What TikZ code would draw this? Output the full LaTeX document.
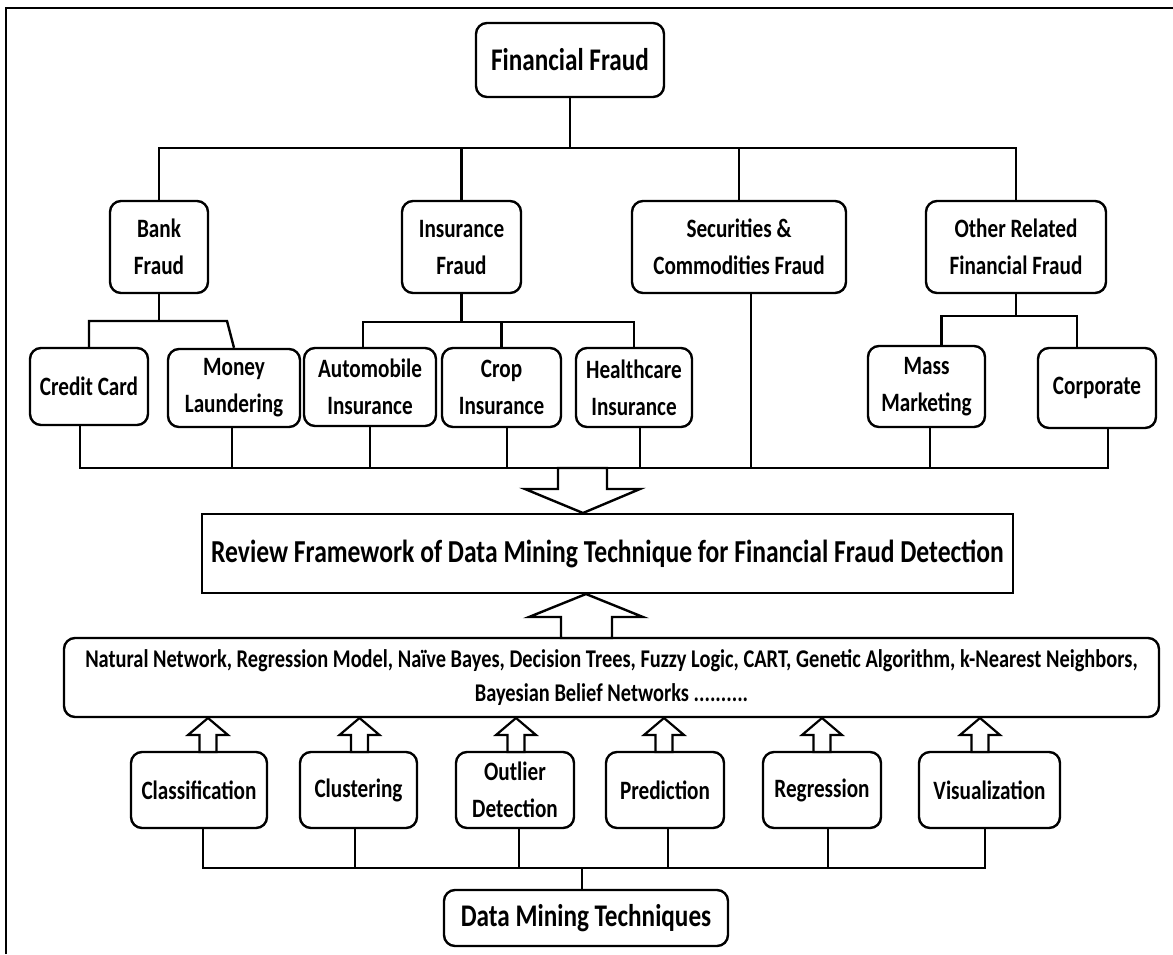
\documentclass[tikz,border=0pt]{standalone}
\usepackage{fontspec}
\newfontfamily\cf[FakeStretch=0.8]{Carlito}
\begin{document}
\begin{tikzpicture}[x=1pt,y=-1pt,
  ln/.style={line width=2.4pt},
  rbox/.style={draw,line width=2.4pt,rounded corners=11pt,align=center,inner sep=0pt,
     font=\cf\bfseries\fontsize{26.5}{37}\selectfont},
  sbox/.style={draw,line width=2.4pt,align=center,inner sep=0pt},
  bigarrow/.style={draw,fill=white,line width=2.4pt,line join=miter}]
\useasboundingbox (0,0) rectangle (1173,954);
\draw[ln] (6,954) -- (6,8) -- (1173,8);

% top level
\node[rbox,minimum width=188pt,minimum height=74pt,font=\cf\bfseries\fontsize{31.5}{38}\selectfont] (ff) at (570,60) {Financial Fraud};
\node[rbox,minimum width=98pt,minimum height=92pt] (bank) at (159,247) {Bank\\Fraud};
\node[rbox,minimum width=119pt,minimum height=92pt] (ins) at (461.5,247) {Insurance\\Fraud};
\node[rbox,minimum width=214pt,minimum height=92pt] (sec) at (739,247) {Securities \&\\Commodities Fraud};
\node[rbox,minimum width=180pt,minimum height=92pt] (oth) at (1016,247) {Other Related\\Financial Fraud};

% second level
\node[rbox,minimum width=118pt,minimum height=77pt] (cc) at (89,386.5) {Credit Card};
\node[rbox,minimum width=132pt,minimum height=78pt] (ml) at (234,388) {Money\\Laundering};
\node[rbox,minimum width=132pt,minimum height=78pt] (auto) at (370,387) {Automobile\\Insurance};
\node[rbox,minimum width=119pt,minimum height=79pt] (crop) at (501.5,387.5) {Crop\\Insurance};
\node[rbox,minimum width=116pt,minimum height=79pt] (hc) at (634,387.5) {Healthcare\\Insurance};
\node[rbox,minimum width=117pt,minimum height=81pt] (mass) at (926.5,386.5) {Mass\\Marketing};
\node[rbox,minimum width=118pt,minimum height=80pt] (corp) at (1097,388) {Corporate};

% framework
\node[sbox,minimum width=811pt,minimum height=79pt,font=\cf\bfseries\fontsize{32}{40}\selectfont] (rev) at (607.5,553.5) {Review Framework of Data Mining Technique for Financial Fraud Detection};
\node[rbox,minimum width=1095pt,minimum height=79pt,font=\cf\bfseries\fontsize{25.5}{34}\selectfont] (nat) at (611.5,677.5) {Natural Network, Regression Model, Na\"ive Bayes, Decision Trees, Fuzzy Logic, CART, Genetic Algorithm, k-Nearest Neighbors,\\Bayesian Belief Networks ..........};

% techniques
\node[rbox,minimum width=136pt,minimum height=76pt] (cls) at (199,790) {Classification};
\node[rbox,minimum width=117pt,minimum height=76pt] (clu) at (358.5,790) {Clustering};
\node[rbox,minimum width=118pt,minimum height=76pt] (out) at (515,790) {Outlier\\Detection};
\node[rbox,minimum width=118pt,minimum height=76pt] (pre) at (665,790) {Prediction};
\node[rbox,minimum width=118pt,minimum height=76pt] (reg) at (822,790) {Regression};
\node[rbox,minimum width=141pt,minimum height=76pt] (vis) at (989.5,790) {Visualization};
\node[rbox,minimum width=284pt,minimum height=56pt,font=\cf\bfseries\fontsize{31.5}{36}\selectfont] (dmt) at (586,918) {Data Mining Techniques};

% coordinates of bars
\coordinate (topbar) at (0,148);
\coordinate (bkbar) at (0,321);
\coordinate (insbar) at (0,322);
\coordinate (othbar) at (0,316);
\coordinate (colbar) at (0,468);
\coordinate (dmbar) at (0,868);

% top tree
\draw[ln] (ff.south) -- (ff.south |- topbar);
\draw[ln] (bank.north) -- (bank.north |- topbar) -- (oth.north |- topbar) -- (oth.north);
\draw[ln] (ins.north) -- (ins.north |- topbar);
\draw[ln] (sec.north) -- (sec.north |- topbar);

% bank subtree
\coordinate (bkr) at (227,321);
\draw[ln] (bank.south) -- (bank.south |- bkbar);
\draw[ln,line join=miter] (cc.north) -- (cc.north |- bkbar) -- (bkr) -- (ml.north);

% insurance subtree
\draw[ln] (ins.south) -- (ins.south |- insbar);
\draw[ln] ([xshift=-7pt]auto.north) -- ([xshift=-7pt]auto.north |- insbar) -- (hc.north |- insbar) -- (hc.north);
\draw[ln] (crop.north) -- (crop.north |- insbar);

% other subtree
\draw[ln] (oth.south) -- (oth.south |- othbar);
\draw[ln] ([xshift=15pt]mass.north) -- ([xshift=15pt]mass.north |- othbar) -- ([xshift=-20pt]corp.north |- othbar) -- ([xshift=-20pt]corp.north);

% collector
\draw[ln] ([xshift=-9pt]cc.south) -- ([xshift=-9pt]cc.south |- colbar) -- ([xshift=11pt]corp.south |- colbar) -- ([xshift=11pt]corp.south);
\draw[ln] ([xshift=-2pt]ml.south) -- ([xshift=-2pt]ml.south |- colbar);
\draw[ln] (auto.south) -- (auto.south |- colbar);
\draw[ln] ([xshift=5.5pt]crop.south) -- ([xshift=5.5pt]crop.south |- colbar);
\draw[ln] ([xshift=6pt]hc.south) -- ([xshift=6pt]hc.south |- colbar);
\draw[ln] ([xshift=12pt]sec.south) -- ([xshift=12pt]sec.south |- colbar);
\draw[ln] ([xshift=3.5pt]mass.south) -- ([xshift=3.5pt]mass.south |- colbar);

% big down arrow
\coordinate (dtip) at (583,513);
\draw[bigarrow] (dtip) -- ++(-58,-24) -- ++(33,0) -- ++(0,-21) -- ++(49,0) -- ++(0,21) -- ++(33,0) -- cycle;

% big up arrow
\coordinate (utip) at (586,594);
\draw[bigarrow] (utip) -- ++(-57,23) -- ++(32,0) -- ++(0,21) -- ++(51,0) -- ++(0,-21) -- ++(31,0) -- cycle;

% small up arrows
\foreach \xx/\nn in {208/cls,359.5/clu,516/out,664/pre,822/reg,980/vis}{
  \draw[bigarrow,line width=2.2pt] (\xx,718) -- ++(-20,17) -- ++(11.5,0) -- ++(0,17) -- ++(17,0) -- ++(0,-17) -- ++(11.5,0) -- cycle;
}

% bottom tree
\draw[ln] ([xshift=4pt]cls.south) -- ([xshift=4pt]cls.south |- dmbar) -- ([xshift=-4.5pt]vis.south |- dmbar) -- ([xshift=-4.5pt]vis.south);
\draw[ln] ([xshift=-3.5pt]clu.south) -- ([xshift=-3.5pt]clu.south |- dmbar);
\draw[ln] ([xshift=4pt]out.south) -- ([xshift=4pt]out.south |- dmbar);
\draw[ln] ([xshift=3pt]pre.south) -- ([xshift=3pt]pre.south |- dmbar);
\draw[ln] ([xshift=6pt]reg.south) -- ([xshift=6pt]reg.south |- dmbar);
\draw[ln] ([xshift=-4pt]dmt.north) -- ([xshift=-4pt]dmt.north |- dmbar);
\end{tikzpicture}
\end{document}
